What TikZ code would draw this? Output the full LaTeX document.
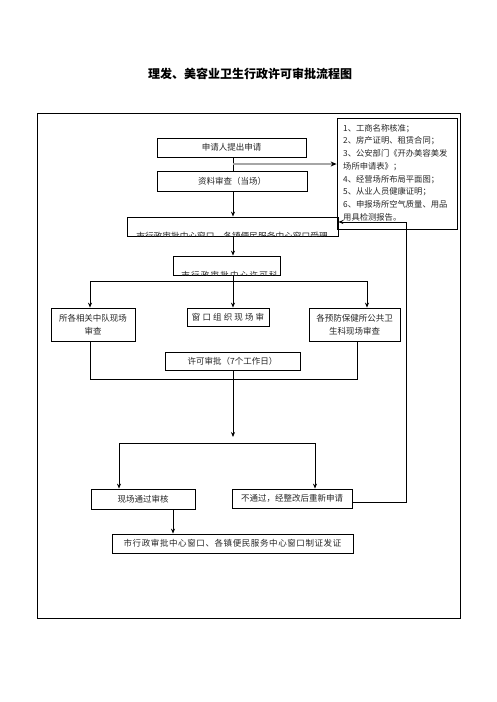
\documentclass[tikz,border=0pt]{standalone}
\usepackage{fontspec}
\newfontfamily\cjk{Noto Sans CJK SC}
\usetikzlibrary{arrows.meta}
\begin{document}
\begin{tikzpicture}[x=1pt,y=-1pt,
  ln/.style={line width=0.8pt},
  box/.style={draw, ln, inner sep=0pt, align=center, text=black!85,
    font=\cjk\fontsize{8.5}{13}\selectfont},
  txt/.style={inner sep=0pt, text=black!85, font=\cjk\fontsize{8.5}{13}\selectfont},
  arr/.style={ln, -{Stealth[length=5pt,width=4pt]}},
]
\useasboundingbox (0,0) rectangle (496,702);
\node[font=\cjk\bfseries\fontsize{12}{14}\selectfont] (title) at (250,74) {理发、美容业卫生行政许可审批流程图};
\node[draw, ln, inner sep=0pt, minimum width=423pt, minimum height=505pt] (frame) at (248.5,365.5) {};

\node[box, minimum width=149pt, minimum height=19pt] (apply) at (231.5,147.5) {申请人提出申请};
\node[box, minimum width=150pt, minimum height=20pt] (check) at (232,181) {资料审查（当场）};
\node[box, minimum width=120pt, minimum height=111pt] (list) at (397,173.5) {};
\node[txt, anchor=north west, align=left, font=\cjk\fontsize{8.3}{12.7}\selectfont] (listtxt) at (343,124)
  {1、工商名称核准；\\2、房产证明、租赁合同；\\3、公安部门《开办美容美发\\场所申请表》；\\4、经营场所布局平面图；\\5、从业人员健康证明；\\6、申报场所空气质量、用品\\用具检测报告。};

\node[box, minimum width=211pt, minimum height=19pt] (accept) at (232.5,226.5) {};
\begin{scope}
  \clip (accept.south west) rectangle (accept.north east);
  \node[txt, font=\cjk\fontsize{8.7}{10}\selectfont] (accepttxt) at (232,236) {市行政审批中心窗口、各镇便民服务中心窗口受理};
\end{scope}
\node[box, minimum width=107pt, minimum height=19pt] (permit) at (226.5,265.5) {};
\begin{scope}
  \clip (permit.south west) rectangle (permit.north east);
  \node[txt, font=\cjk\fontsize{8.5}{10}\selectfont\addfontfeature{LetterSpace=15}] (permittxt) at (229.5,275) {市行政审批中心许可科};
\end{scope}

\node[box, minimum width=84pt, minimum height=33pt] (left3) at (93,324.5) {所各相关中队现场\\审查};
\node[box, minimum width=82pt, minimum height=18pt, font=\cjk\fontsize{8.5}{13}\selectfont\addfontfeature{LetterSpace=25}] (mid3) at (228,317) {窗口组织现场审};
\node[box, minimum width=91pt, minimum height=33pt] (right3) at (354.5,324.5) {各预防保健所公共卫\\生科现场审查};
\node[box, minimum width=135pt, minimum height=18pt] (approve) at (232.5,361) {许可审批（7个工作日）};
\node[box, minimum width=104pt, minimum height=20pt] (pass) at (143,499) {现场通过审核};
\node[box, minimum width=120pt, minimum height=19pt] (fail) at (292,498.5) {不通过，经整改后重新申请};
\node[box, minimum width=241pt, minimum height=19pt, font=\cjk\fontsize{8.5}{13}\selectfont\addfontfeature{LetterSpace=7}] (issue) at (232.5,543.5) {市行政审批中心窗口、各镇便民服务中心窗口制证发证};

% helper coordinates
\coordinate (spine) at (233,0);
\coordinate (g) at (233,164);
\coordinate (lx) at (90,0);
\coordinate (rx) at (367,0);
\coordinate (b1) at (233,281);
\coordinate (lx2) at (90,0);
\coordinate (rx2) at (357,0);
\coordinate (b2) at (233,379);
\coordinate (b3) at (233,437);
\coordinate (b4) at (233,443);
\coordinate (px) at (119,0);
\coordinate (fx) at (315,0);
\coordinate (ix) at (173,0);
\coordinate (r1) at (406,502);
\coordinate (r2) at (406,222);

\draw[ln] (apply.south -| spine) -- (check.north -| spine);
\draw[line width=2pt, gray!70, -{Stealth[length=6pt,width=5pt,black]}] (g) -- (g -| list.west);
\draw[arr] (check.south -| spine) -- (accept.north -| spine);
\draw[arr] (accept.south -| spine) -- (permit.north -| spine);
\draw[ln] (permit.south -| spine) -- (b1);
\draw[ln] (b1 -| lx) -- (b1 -| rx);
\draw[arr] (b1 -| lx) -- (left3.north -| lx);
\draw[arr] (b1) -- (mid3.north -| spine);
\draw[arr] (b1 -| rx) -- (right3.north -| rx);
\draw[ln] (left3.south -| lx2) -- (b2 -| lx2) -- (b2 -| rx2) -- (right3.south -| rx2);
\draw[ln] (approve.south -| spine) -- (b2);
\draw[arr] (b2) -- (b3);
\draw[ln] (b4 -| px) -- (b4 -| fx);
\draw[arr] (b4 -| px) -- (pass.north -| px);
\draw[arr] (b4 -| fx) -- (fail.north -| fx);
\draw[arr] (pass.south -| ix) -- (issue.north -| ix);
\draw[arr] (fail.east |- r1) -- (r1) -- (r2) -- (r2 -| accept.east);
\end{tikzpicture}
\end{document}
